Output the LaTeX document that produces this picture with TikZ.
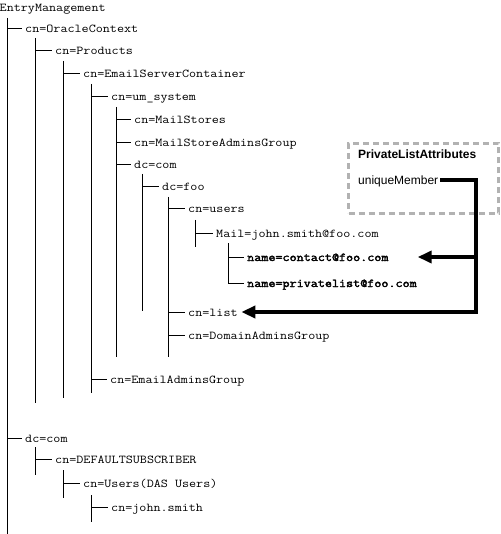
\documentclass[tikz,border=0pt]{standalone}
\usepackage{fontspec}
\setmainfont{Liberation Serif}
\setmonofont{Latin Modern Mono}[FakeStretch=1.143]
\newfontfamily\boldmono{Latin Modern Mono}[FakeStretch=1.143,FakeBold=2.5]
\setsansfont{Liberation Sans}
\usetikzlibrary{arrows.meta}
\begin{document}
\begin{tikzpicture}[x=1pt,y=-1pt,
  item/.style={anchor=west,inner sep=0pt,text height=8pt,text depth=0pt,font=\ttfamily\fontsize{12}{14}\selectfont},
  bolditem/.style={item,font=\boldmono\fontsize{12}{14}\selectfont},
  tree/.style={line width=1pt,black},
  ptr/.style={line width=4pt,black,-{Triangle[length=14pt,width=12pt]}},
  attr/.style={anchor=west,inner sep=0pt,text height=8.5pt,text depth=0pt,font=\sffamily\fontsize{12}{14}\selectfont},
  attrhead/.style={attr,font=\sffamily\bfseries\fontsize{12}{14}\selectfont},
  dbox/.style={draw=black!30,line width=3pt,dash pattern=on 6pt off 4pt,inner sep=0pt,anchor=north west,minimum width=150pt,minimum height=70pt},
]
\useasboundingbox (0,0) rectangle (500,534);

% tree nodes
\node[item] (em) at (-0.5,8) {EntryManagement};
\node[item] (oc) at (25,29) {cn=OracleContext};
\node[item] (pr) at (55,51) {cn=Products};
\node[item] (esc) at (83,74) {cn=EmailServerContainer};
\node[item] (ums) at (111,97) {cn=um\_system};
\node[item] (ms) at (134,120) {cn=MailStores};
\node[item] (msag) at (134,143) {cn=MailStoreAdminsGroup};
\node[item] (dca) at (134,165) {dc=com};
\node[item] (foo) at (162,187) {dc=foo};
\node[item] (us) at (188,209) {cn=users};
\node[item] (mail) at (216,233) {Mail=john.smith@foo.com};
\node[bolditem] (nc) at (247,257) {name=contact@foo.com};
\node[bolditem] (np) at (247,283) {name=privatelist@foo.com};
\node[item] (lst) at (188,312) {cn=list};
\node[item] (dag) at (188,335) {cn=DomainAdminsGroup};
\node[item] (eag) at (110,379) {cn=EmailAdminsGroup};
\node[item] (dcb) at (25,438) {dc=com};
\node[item] (ds) at (55,459) {cn=DEFAULTSUBSCRIBER};
\node[item] (usr) at (83,483) {cn=Users(DAS Users)};
\node[item] (js) at (111,507) {cn=john.smith};

% vertical rails of the tree
\coordinate (v0t) at (7,18);   \coordinate (v0b) at (7,534);
\coordinate (v1t) at (35,38);  \coordinate (v1b) at (35,403);
\coordinate (v2t) at (63,61);  \coordinate (v2b) at (63,398);
\coordinate (v3t) at (91,84);  \coordinate (v3b) at (91,393);
\coordinate (v4t) at (116,107);\coordinate (v4b) at (116,357);
\coordinate (v5t) at (142,174);\coordinate (v5b) at (142,311);
\coordinate (v6t) at (168,197);\coordinate (v6b) at (168,357);
\coordinate (v7t) at (195,220);\coordinate (v7b) at (195,247);
\coordinate (v8t) at (228,243);
\coordinate (v9t) at (35,447); \coordinate (v9b) at (35,475);
\coordinate (v10t) at (63,470);\coordinate (v10b) at (63,498);
\coordinate (v11t) at (91,495);\coordinate (v11b) at (91,522);

\foreach \v in {0,...,7,9,10,11} {\draw[tree] (v\v t) -- (v\v b);}

% branches
\draw[tree] (v0t |- oc.west) -- ([xshift=-3pt]oc.west);
\draw[tree] (v1t |- pr.west) -- ([xshift=-3pt]pr.west);
\draw[tree] (v2t |- esc.west) -- ([xshift=-3pt]esc.west);
\draw[tree] (v3t |- ums.west) -- ([xshift=-3pt]ums.west);
\draw[tree] (v4t |- ms.west) -- ([xshift=-3pt]ms.west);
\draw[tree] (v4t |- msag.west) -- ([xshift=-3pt]msag.west);
\draw[tree] (v4t |- dca.west) -- ([xshift=-3pt]dca.west);
\draw[tree] (v5t |- foo.west) -- ([xshift=-3pt]foo.west);
\draw[tree] (v6t |- us.west) -- ([xshift=-3pt]us.west);
\draw[tree] (v7t |- mail.west) -- ([xshift=-3pt]mail.west);
\draw[tree] (v8t |- nc.west) -- ([xshift=-3pt]nc.west);
\draw[tree] (v8t) -- (v8t |- np.west) -- ([xshift=-3pt]np.west);
\draw[tree] (v6t |- lst.west) -- ([xshift=-3pt]lst.west);
\draw[tree] (v6t |- dag.west) -- ([xshift=-3pt]dag.west);
\draw[tree] (v3t |- eag.west) -- ([xshift=-3pt]eag.west);
\draw[tree] (v0t |- dcb.west) -- ([xshift=-3pt]dcb.west);
\draw[tree] (v9t |- ds.west) -- ([xshift=-3pt]ds.west);
\draw[tree] (v10t |- usr.west) -- ([xshift=-3pt]usr.west);
\draw[tree] (v11t |- js.west) -- ([xshift=-3pt]js.west);

% attribute box
\node[dbox] (box) at (347,142) {};
\node[attrhead] (pla) at (358,154) {PrivateListAttributes};
\node[attr] (umem) at (358,180) {uniqueMember};

% pointer arrows
\coordinate (rail) at (476,180);
\draw[ptr] ([xshift=2pt]umem.east) -- (umem.east -| rail) -- (rail |- lst.west) -- ([xshift=3.5pt]lst.east);
\draw[ptr] (rail |- nc.west) -- ([xshift=29pt]nc.east);
\end{tikzpicture}
\end{document}
